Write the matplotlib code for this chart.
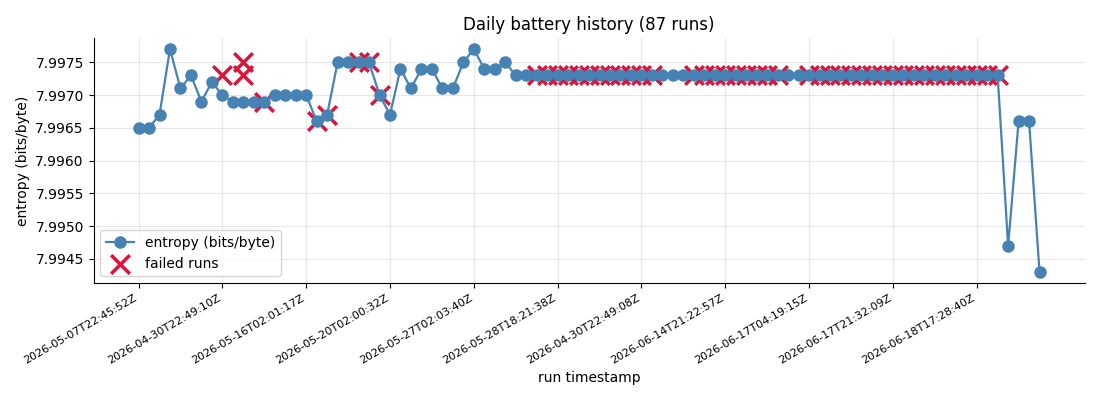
import matplotlib
matplotlib.use("Agg")
import matplotlib.pyplot as plt
from matplotlib.ticker import FormatStrFormatter

# entropy per run (run order = x position)
entropy = [
    7.9965, 7.9965, 7.9967, 7.9977, 7.9971, 7.9973, 7.9969, 7.9972,
    7.9970, 7.9969, 7.9969, 7.9969, 7.9969, 7.9970, 7.9970, 7.9970,
    7.9970, 7.9966, 7.9967, 7.9975, 7.9975, 7.9975, 7.9975, 7.9970,
    7.9967, 7.9974, 7.9971, 7.9974, 7.9974, 7.9971, 7.9971, 7.9975,
    7.9977, 7.9974, 7.9974, 7.9975, 7.9973, 7.9973, 7.9973, 7.9973,
    7.9973, 7.9973, 7.9973, 7.9973, 7.9973, 7.9973, 7.9973, 7.9973,
    7.9973, 7.9973, 7.9973, 7.9973, 7.9973, 7.9973, 7.9973, 7.9973,
    7.9973, 7.9973, 7.9973, 7.9973, 7.9973, 7.9973, 7.9973, 7.9973,
    7.9973, 7.9973, 7.9973, 7.9973, 7.9973, 7.9973, 7.9973, 7.9973,
    7.9973, 7.9973, 7.9973, 7.9973, 7.9973, 7.9973, 7.9973, 7.9973,
    7.9973, 7.9973, 7.9973, 7.9947, 7.9966, 7.9966, 7.9943,
]

# failed runs: position and entropy
failed_idx = [
    8, 10, 10, 12, 17, 18, 21, 22, 23,
    38, 39, 40, 41, 42, 43, 44, 45, 46, 47, 48, 49,
    53, 54, 55, 56, 57, 58, 59, 60, 61,
    64, 65, 66, 67, 68, 69, 70, 71, 72, 73, 74, 75, 76, 77, 78, 79, 80, 81, 82,
]
failed_val = [
    7.9973, 7.9975, 7.9973, 7.9969, 7.9966, 7.9967, 7.9975, 7.9975, 7.9970,
    7.9973, 7.9973, 7.9973, 7.9973, 7.9973, 7.9973, 7.9973, 7.9973, 7.9973, 7.9973, 7.9973, 7.9973,
    7.9973, 7.9973, 7.9973, 7.9973, 7.9973, 7.9973, 7.9973, 7.9973, 7.9973,
    7.9973, 7.9973, 7.9973, 7.9973, 7.9973, 7.9973, 7.9973, 7.9973, 7.9973, 7.9973,
    7.9973, 7.9973, 7.9973, 7.9973, 7.9973, 7.9973, 7.9973, 7.9973, 7.9973,
]

# timestamp labels shown on every 8th run
tick_labels = [
    "2026-05-07T22:45:52Z", "2026-04-30T22:49:10Z", "2026-05-16T02:01:17Z",
    "2026-05-20T02:00:32Z", "2026-05-27T02:03:40Z", "2026-05-28T18:21:38Z",
    "2026-04-30T22:49:08Z", "2026-06-14T21:22:57Z", "2026-06-17T04:19:15Z",
    "2026-06-17T21:32:09Z", "2026-06-18T17:28:40Z",
]

runs = list(range(len(entropy)))
tick_pos = runs[::8]

fig, ax = plt.subplots(figsize=(11, 4), dpi=100)

ax.scatter(failed_idx, failed_val, marker='x', s=180, linewidths=2.5,
           color='crimson', label='failed runs', zorder=2)
ax.plot(runs, entropy, marker='o', markersize=8, linewidth=1.6,
        color='steelblue', label='entropy (bits/byte)', zorder=3)

ax.set_title('Daily battery history (87 runs)', fontsize=12)
ax.set_xlabel('run timestamp')
ax.set_ylabel('entropy (bits/byte)')
ax.set_xticks(tick_pos)
ax.set_xticklabels(tick_labels, rotation=30, ha='right', fontsize=8)
ax.yaxis.set_major_formatter(FormatStrFormatter('%.4f'))
ax.grid(True, alpha=0.3)
ax.spines['top'].set_visible(False)
ax.spines['right'].set_visible(False)

handles, labels = ax.get_legend_handles_labels()
ax.legend(handles[::-1], labels[::-1], loc='lower left')

fig.subplots_adjust(left=0.085, right=0.986, bottom=0.292, top=0.905)
fig.savefig('out.png')
